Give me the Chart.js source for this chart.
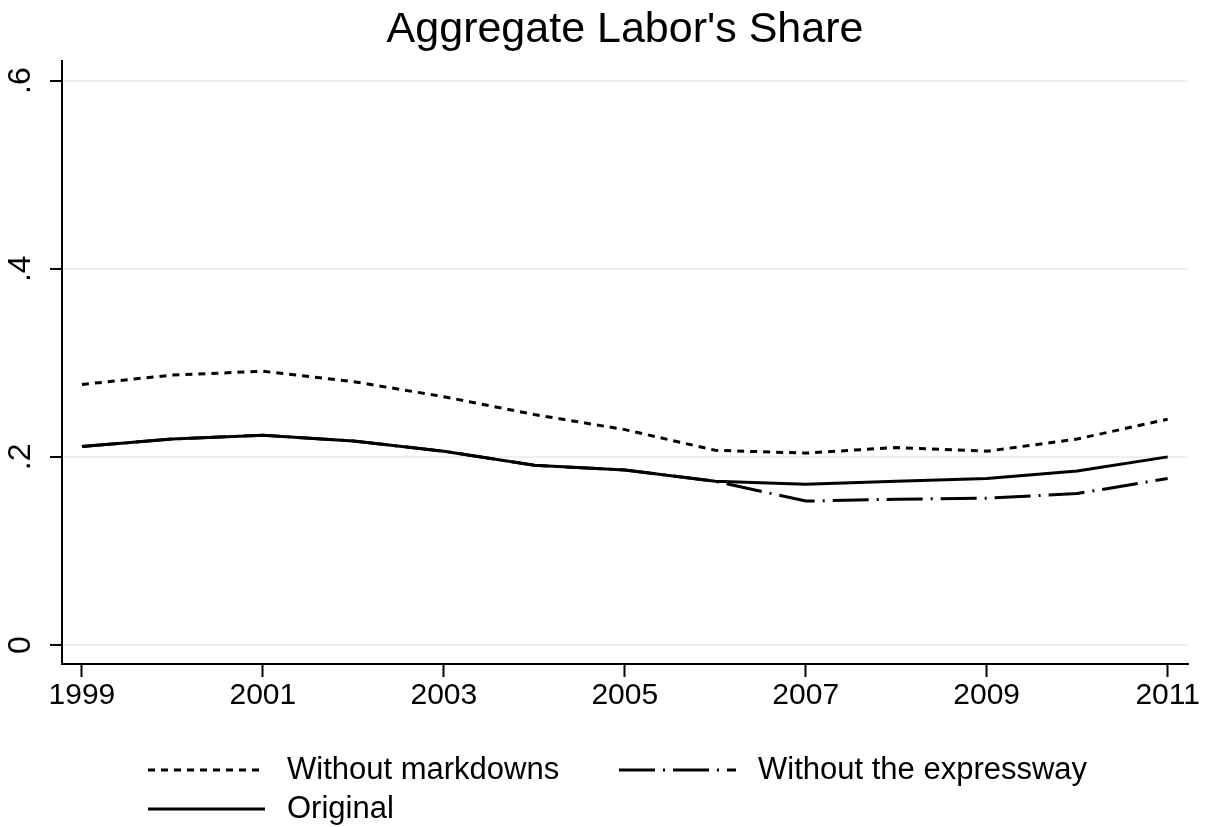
<!DOCTYPE html>
<html>
<head>
<meta charset="utf-8">
<title>Aggregate Labor's Share</title>
<script src="https://cdn.jsdelivr.net/npm/chart.js@4/dist/chart.umd.min.js"></script>
<style>
  html, body { margin: 0; padding: 0; background: #fff; }
</style>
</head>
<body>
<canvas id="chart" width="1209" height="827"></canvas>
<script>
// data
const years = [1999, 2000, 2001, 2002, 2003, 2004, 2005, 2006, 2007, 2008, 2009, 2010, 2011];
const withoutMarkdowns = [0.277, 0.287, 0.291, 0.280, 0.264, 0.245, 0.229, 0.207, 0.204, 0.210, 0.206, 0.219, 0.240];
const withoutExpressway = [0.211, 0.219, 0.223, 0.217, 0.206, 0.191, 0.186, 0.174, 0.153, 0.155, 0.156, 0.161, 0.177];
const original = [0.211, 0.219, 0.223, 0.217, 0.206, 0.191, 0.186, 0.174, 0.171, 0.174, 0.177, 0.185, 0.200];

const xTicks = [1999, 2001, 2003, 2005, 2007, 2009, 2011];
const yTicks = [0, 0.2, 0.4, 0.6];
const yTickLabels = ['0', '.2', '.4', '.6'];

const sans = "'Liberation Sans', Arial, sans-serif";

function pts(values) {
  return years.map((y, i) => ({ x: y, y: values[i] }));
}

// Stata-like legend: two columns, line sample then label
const stataLegend = {
  id: 'stataLegend',
  afterDraw(chart, args, opts) {
    const ctx = chart.ctx;
    const base = chart.chartArea.bottom;
    ctx.save();
    opts.items.forEach(item => {
      const ds = chart.data.datasets[item.dataset];
      const x = opts.cols[item.col];
      const y = base + opts.rows[item.row];
      ctx.beginPath();
      ctx.lineWidth = ds.borderWidth;
      ctx.strokeStyle = ds.borderColor;
      ctx.lineCap = 'butt';
      ctx.setLineDash(ds.borderDash || []);
      ctx.moveTo(x, y);
      ctx.lineTo(x + opts.lineLength, y);
      ctx.stroke();
      ctx.setLineDash([]);
      ctx.fillStyle = '#000';
      ctx.font = opts.fontSize + 'px ' + sans;
      ctx.textBaseline = 'middle';
      ctx.fillText(ds.label, x + opts.lineLength + opts.gap, y + opts.textShift);
    });
    ctx.restore();
  }
};

new Chart(document.getElementById('chart'), {
  type: 'line',
  data: {
    datasets: [
      {
        label: 'Without markdowns',
        data: pts(withoutMarkdowns),
        borderColor: '#000',
        borderWidth: 3,
        borderDash: [7, 6],
        order: 1
      },
      {
        label: 'Without the expressway',
        data: pts(withoutExpressway),
        borderColor: '#000',
        borderWidth: 3,
        borderDash: [36, 8, 2, 8],
        order: 2
      },
      {
        label: 'Original',
        data: pts(original),
        borderColor: '#000',
        borderWidth: 3,
        order: 0
      }
    ]
  },
  options: {
    responsive: false,
    animation: false,
    events: [],
    elements: {
      point: { radius: 0 },
      line: { tension: 0, fill: false, borderCapStyle: 'butt' }
    },
    layout: { padding: { left: 0, right: 21, top: 0, bottom: 103 } },
    scales: {
      x: {
        type: 'linear',
        min: 1998.78,
        max: 2011.225,
        afterBuildTicks: scale => { scale.ticks = xTicks.map(v => ({ value: v })); },
        afterFit: scale => { scale.height = 60; },
        ticks: {
          autoSkip: false,
          maxRotation: 0,
          padding: 1,
          color: '#000',
          font: { family: sans, size: 30 },
          callback: v => String(v)
        },
        grid: { drawOnChartArea: false, tickLength: 13, tickWidth: 2, tickColor: '#000' },
        border: { color: '#000', width: 2 }
      },
      y: {
        min: -0.0202,
        max: 0.6213,
        afterBuildTicks: scale => { scale.ticks = yTicks.map(v => ({ value: v })); },
        afterFit: scale => { scale.width = 62; },
        ticks: {
          autoSkip: false,
          minRotation: 90,
          maxRotation: 90,
          crossAlign: 'center',
          padding: 15,
          color: '#000',
          font: { family: sans, size: 32 },
          callback: (v, i) => yTickLabels[i]
        },
        grid: { color: '#eaf2f3', lineWidth: 2, tickLength: 12, tickWidth: 2, tickColor: '#000' },
        border: { color: '#000', width: 2 }
      }
    },
    plugins: {
      legend: { display: false },
      tooltip: { enabled: false },
      title: {
        display: true,
        fullSize: false,
        text: "Aggregate Labor's Share",
        color: '#000',
        font: { family: sans, size: 43, weight: 'normal' },
        padding: { top: 4, bottom: 5 }
      },
      stataLegend: {
        cols: [148, 619],
        rows: [106, 145],
        lineLength: 117,
        gap: 22,
        fontSize: 31,
        textShift: 0,
        items: [
          { dataset: 0, col: 0, row: 0 },
          { dataset: 1, col: 1, row: 0 },
          { dataset: 2, col: 0, row: 1 }
        ]
      }
    }
  },
  plugins: [stataLegend]
});
</script>
</body>
</html>
